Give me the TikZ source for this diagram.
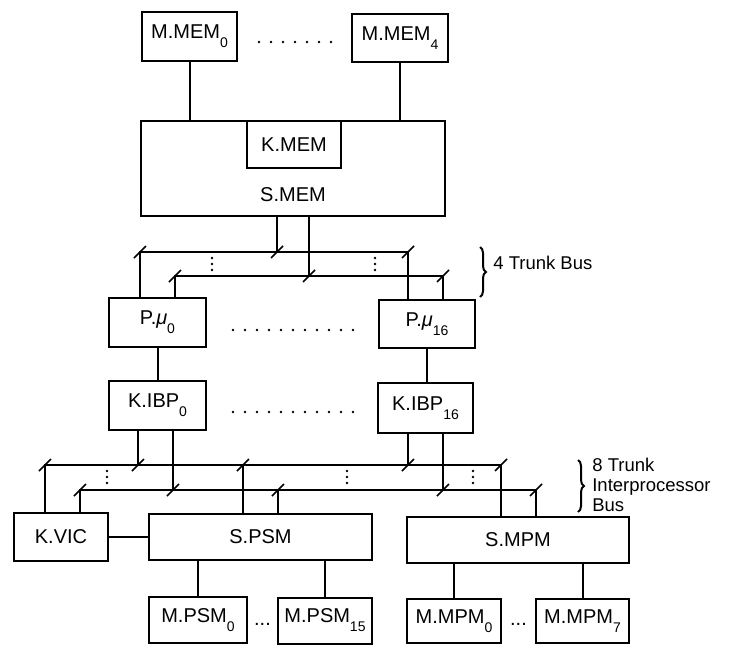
\documentclass[tikz,border=0pt]{standalone}
\usepackage{fontspec}
\setmainfont{Liberation Sans}
\usetikzlibrary{decorations.pathreplacing}
\newcommand{\lowidx}[1]{\raisebox{-9pt}{\fontsize{14}{14}\selectfont #1}}
\tikzset{
  unit/.style={draw, line width=2pt, inner sep=0pt, font=\fontsize{20}{22}\selectfont},
  busmark/.style={line width=1.6pt},
  note/.style={anchor=west, align=left, font=\fontsize{18.5}{20}\selectfont},
}
\begin{document}
\begin{tikzpicture}[x=1pt,y=-1pt,line width=2pt]
\useasboundingbox (0,0) rectangle (738,645);
% memory side
\node[unit, minimum width=95pt, minimum height=49pt] (mmem0) at (189.5,36.5) {M.MEM\lowidx{0}};
\node[unit, minimum width=96pt, minimum height=48pt] (mmem4) at (400,38) {M.MEM\lowidx{4}};
\node[unit, minimum width=304pt, minimum height=95pt] (smem) at (293,168.5) {};
\node[unit, minimum width=94pt, minimum height=47pt] (kmem) at (294,144.5) {K.MEM};
\node[font=\fontsize{20}{22}\selectfont] (smemtxt) at (293,195) {S.MEM};
\foreach \x in {259,271,...,332} \fill (\x,42) circle (1.4);
\draw (mmem0.south) -- (mmem0.south |- smem.north);
\draw (mmem4.south) -- (mmem4.south |- smem.north);
% processors
\node[unit, minimum width=97pt, minimum height=49pt] (pmu0) at (157.5,322.5) {P.{\itshape μ}\lowidx{0}};
\node[unit, minimum width=96pt, minimum height=48pt] (pmu16) at (427,324) {P.{\itshape μ}\lowidx{16}};
\node[unit, minimum width=97pt, minimum height=49pt] (kibp0) at (157.5,405.5) {K.IBP\lowidx{0}};
\node[unit, minimum width=95pt, minimum height=50pt] (kibp16) at (425.5,408) {K.IBP\lowidx{16}};
\foreach \x in {233,245,...,353} {
  \fill (\x,330) circle (1.4);
  \fill (\x,412) circle (1.4);
}
\draw (pmu0) -- (kibp0);
\draw (pmu16.south) -- (pmu16.south |- kibp16.north);
% 4 trunk bus
\coordinate (ta1) at (140,252);
\coordinate (ta2) at (408,252);
\coordinate (tb1) at (175,276);
\coordinate (tb2) at (443,276);
\coordinate (tj1) at (277,252);
\coordinate (tj2) at (309,276);
\draw (ta1 |- pmu0.north) -- (ta1) -- (ta2) -- (ta2 |- pmu16.north);
\draw (tb1 |- pmu0.north) -- (tb1) -- (tb2) -- (tb2 |- pmu16.north);
\draw (tj1 |- smem.south) -- (tj1);
\draw (tj2 |- smem.south) -- (tj2);
\foreach \c in {ta1,ta2,tb1,tb2,tj1,tj2}
  \draw[busmark] (\c) ++(-6,6) -- ++(12,-12);
\foreach \x in {212,375}
  \foreach \y in {258,264,270} \fill (\x,\y) circle (1.3);
\draw[decorate, decoration={brace, amplitude=6pt}] (480,247) -- (480,297);
\node[note] (trunk4) at (489,263) {4 Trunk Bus};
% switch side
\node[unit, minimum width=94pt, minimum height=48pt] (kvic) at (61,537) {K.VIC};
\node[unit, minimum width=223pt, minimum height=46pt] (spsm) at (260.5,537) {S.PSM};
\node[unit, minimum width=222pt, minimum height=46pt] (smpm) at (518,540) {S.MPM};
\node[unit, minimum width=98pt, minimum height=46pt] (mpsm0) at (198,620) {M.PSM\lowidx{0}};
\node[unit, minimum width=94pt, minimum height=46pt] (mpsm15) at (325,620.5) {M.PSM\lowidx{15}};
\node[unit, minimum width=94pt, minimum height=44pt] (mmpm0) at (454,621) {M.MPM\lowidx{0}};
\node[unit, minimum width=93pt, minimum height=44pt] (mmpm7) at (582.5,621) {M.MPM\lowidx{7}};
\node[font=\fontsize{20}{22}\selectfont] (dpsm) at (262.5,624) {...};
\node[font=\fontsize{20}{22}\selectfont] (dmpm) at (518.5,624) {...};
\draw (kvic.east) -- (kvic.east -| spsm.west);
\draw (mpsm0.north) -- (mpsm0.north |- spsm.south);
\draw (mpsm15.north) -- (mpsm15.north |- spsm.south);
\draw (mmpm0.north) -- (mmpm0.north |- smpm.south);
\draw (mmpm7.north) -- (mmpm7.north |- smpm.south);
% 8 trunk interprocessor bus
\coordinate (ba1) at (45,465);
\coordinate (ba2) at (501,465);
\coordinate (bb1) at (80,490);
\coordinate (bb2) at (536,490);
\coordinate (bj1) at (138,465);
\coordinate (bj2) at (173,490);
\coordinate (bj3) at (408,465);
\coordinate (bj4) at (443,490);
\coordinate (bj5) at (243,465);
\coordinate (bj6) at (278,490);
\draw (ba1 |- kvic.north) -- (ba1) -- (ba2) -- (ba2 |- smpm.north);
\draw (bb1 |- kvic.north) -- (bb1) -- (bb2) -- (bb2 |- smpm.north);
\draw (bj1 |- kibp0.south) -- (bj1);
\draw (bj2 |- kibp0.south) -- (bj2);
\draw (bj3 |- kibp16.south) -- (bj3);
\draw (bj4 |- kibp16.south) -- (bj4);
\draw (bj5 |- spsm.north) -- (bj5);
\draw (bj6 |- spsm.north) -- (bj6);
\foreach \c in {ba1,ba2,bb1,bb2,bj1,bj2,bj3,bj4,bj5,bj6}
  \draw[busmark] (\c) ++(-6,6) -- ++(12,-12);
\foreach \x in {107,347,473}
  \foreach \y in {471,477,483} \fill (\x,\y) circle (1.3);
\draw[decorate, decoration={brace, amplitude=6pt}] (578,460) -- (578,512);
\node[note] (trunk8) at (588,485) {8 Trunk\\Interprocessor\\Bus};
\end{tikzpicture}
\end{document}
